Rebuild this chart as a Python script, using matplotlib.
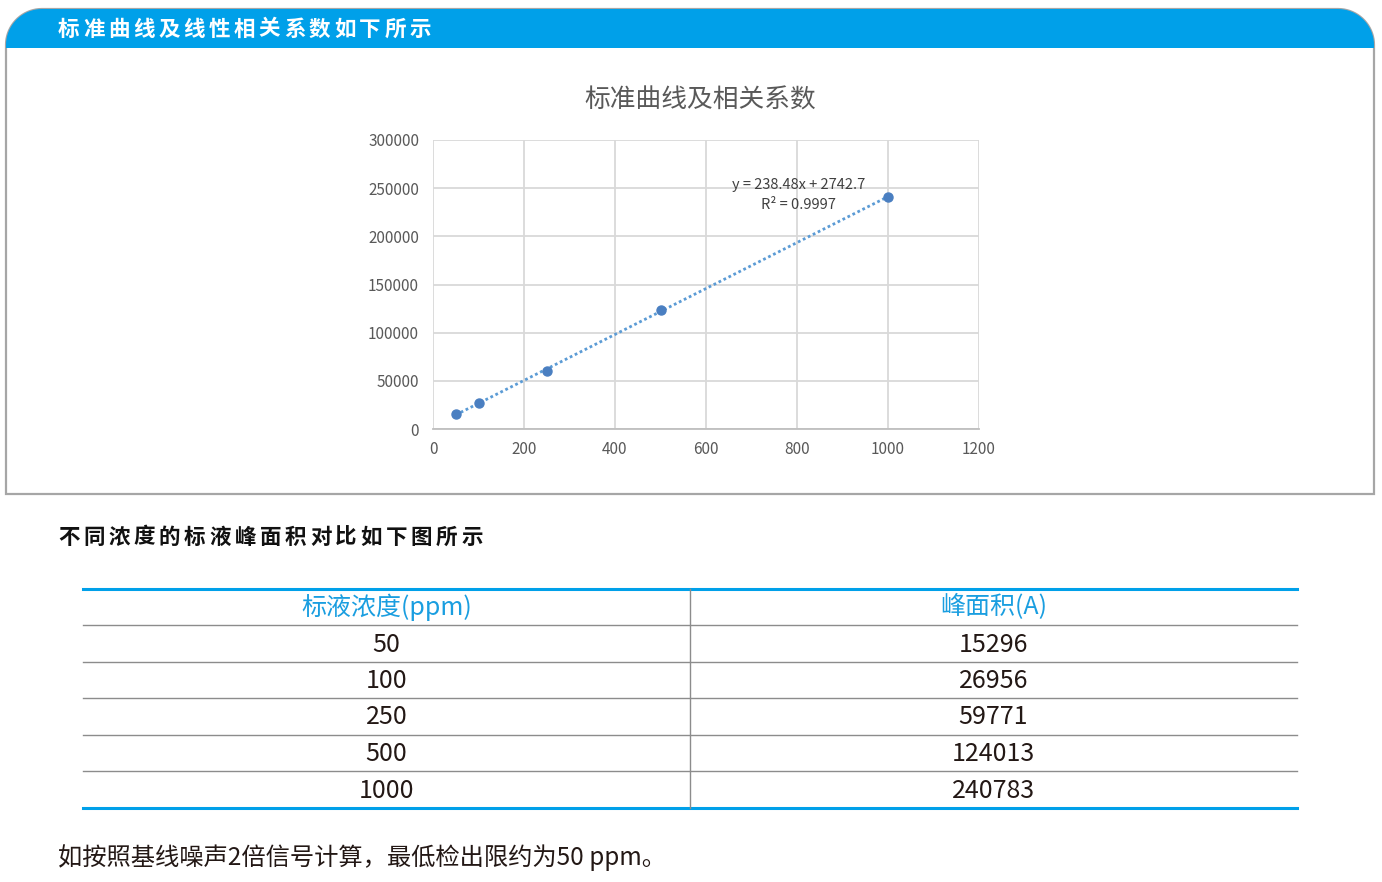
import numpy as np
import matplotlib
matplotlib.use("Agg")
import matplotlib.pyplot as plt
from matplotlib.path import Path
from matplotlib.patches import PathPatch

plt.rcParams['font.family'] = ['Noto Sans CJK SC', 'DejaVu Sans']

# data
conc = [50, 100, 250, 500, 1000]
area = [15296, 26956, 59771, 124013, 240783]
x_ticks = [0, 200, 400, 600, 800, 1000, 1200]
y_ticks = [0, 50000, 100000, 150000, 200000, 250000, 300000]
header_title = "标准曲线及线性相关系数如下所示"
chart_title = "标准曲线及相关系数"
eq_text = "y = 238.48x + 2742.7"
r2_text = "R² = 0.9997"
section_title = "不同浓度的标液峰面积对比如下图所示"
col_names = ["标液浓度(ppm)", "峰面积(A)"]
footer = "如按照基线噪声2倍信号计算，最低检出限约为50 ppm。"

BLUE = "#00a0e9"
W, H = 1382, 882

fig = plt.figure(figsize=(W / 100, H / 100), dpi=100)

# background layer in pixel coordinates
bg = fig.add_axes([0, 0, 1, 1])
bg.set_xlim(0, W)
bg.set_ylim(H, 0)
bg.axis("off")


def top_rounded(x0, x1, ytop, ybot, r):
    t1 = np.linspace(np.pi, 1.5 * np.pi, 20)
    t2 = np.linspace(1.5 * np.pi, 2 * np.pi, 20)
    pts = [(x0, ybot)]
    pts += [(x0 + r + r * np.cos(t), ytop + r + r * np.sin(t)) for t in t1]
    pts += [(x1 - r + r * np.cos(t), ytop + r + r * np.sin(t)) for t in t2]
    pts += [(x1, ybot), (x0, ybot)]
    return Path(pts, closed=True)


bg.add_patch(PathPatch(top_rounded(6, 1374, 9, 494, 36), facecolor="white",
                       edgecolor="#a6a6a6", lw=1.6))
bg.add_patch(PathPatch(top_rounded(6, 1374, 9, 48, 36), facecolor=BLUE,
                       edgecolor="none"))

for i, ch in enumerate(header_title):
    bg.text(58 + i * 25.1, 29, ch, color="white", fontsize=15.5,
            fontweight="heavy", ha="left", va="center")

for i, ch in enumerate(section_title):
    bg.text(58 + i * 25.2, 537, ch, color="#111111", fontsize=15.5,
            fontweight="heavy", ha="left", va="center")

# table
tx0, tx1, tmid = 83, 1297, 690
row_y = [589, 625, 662, 698, 735, 771, 808]
bg.plot([tx0, tx1], [row_y[0], row_y[0]], color=BLUE, lw=2.2)
bg.plot([tx0, tx1], [row_y[-1], row_y[-1]], color=BLUE, lw=2.2)
for y in row_y[1:-1]:
    bg.plot([tx0, tx1], [y, y], color="#8c8c8c", lw=1)
bg.plot([tmid, tmid], [row_y[0], row_y[-1]], color="#8c8c8c", lw=1)

cx = [(tx0 + tmid) / 2, (tmid + tx1) / 2]
for j, name in enumerate(col_names):
    bg.text(cx[j], (row_y[0] + row_y[1]) / 2, name, color="#1a9ee0",
            fontsize=18, ha="center", va="center")
for i in range(len(conc)):
    yc = (row_y[i + 1] + row_y[i + 2]) / 2 + 1
    bg.text(cx[0], yc, str(conc[i]), color="#231815", fontsize=18,
            ha="center", va="center")
    bg.text(cx[1], yc, str(area[i]), color="#231815", fontsize=18,
            ha="center", va="center")

bg.text(58, 858, footer, color="#231815", fontsize=17.5, ha="left",
        va="center")

# chart
ax = fig.add_axes([433 / W, 1 - 429 / H, (979 - 433) / W, (429 - 140) / H])
ax.set_xlim(0, 1200)
ax.set_ylim(0, 300000)
ax.set_xticks(x_ticks)
ax.set_yticks(y_ticks)
ax.set_xticklabels([str(v) for v in x_ticks])
ax.set_yticklabels([str(v) for v in y_ticks])
ax.tick_params(length=0, labelsize=11, labelcolor="#595959", pad=9)
ax.tick_params(axis="y", pad=10)
ax.grid(True, color="#d9d9d9", lw=1.3)
for s in ["top", "right", "left"]:
    ax.spines[s].set_visible(False)
ax.spines["bottom"].set_color("#bfbfbf")
ax.spines["bottom"].set_linewidth(1.3)
ax.set_axisbelow(True)

coef = np.polyfit(conc, area, 1)
fx = np.array([conc[0], conc[-1]])
ax.plot(fx, np.polyval(coef, fx), linestyle=(0, (1, 1)), color="#5b9bd5",
        lw=2)
ax.plot(conc, area, "o", color="#4a7fc1", markersize=6.5, zorder=3)

ax.text(803, 253500, eq_text, color="#404040", fontsize=10.5, ha="center",
        va="center")
ax.text(803, 233000, r2_text, color="#404040", fontsize=10.5, ha="center",
        va="center")

bg.text(700, 101, chart_title, color="#595959", fontsize=18.5, ha="center",
        va="center")

fig.savefig("out.png", dpi=100)
